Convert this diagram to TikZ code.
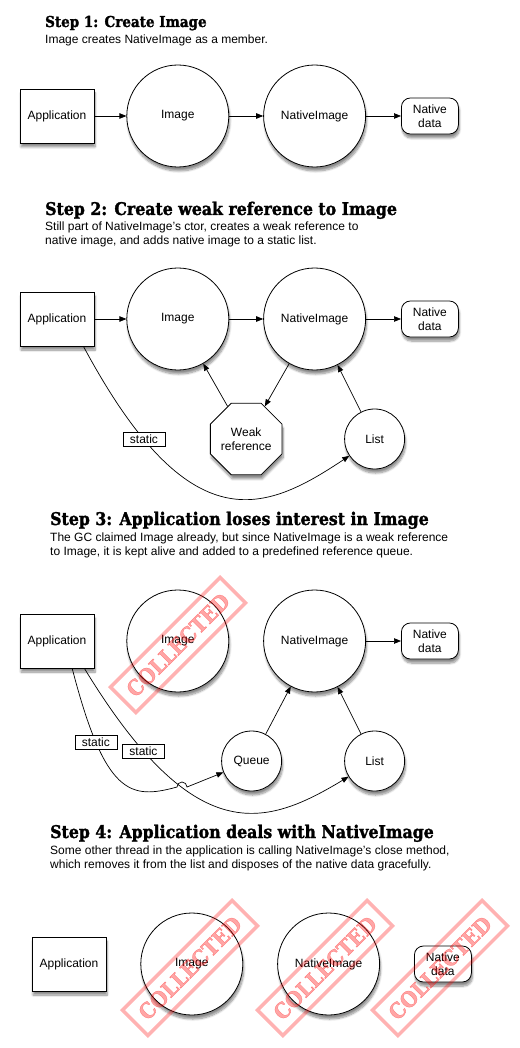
\documentclass[tikz,border=0pt]{standalone}
\usepackage{fontspec}
\setmainfont{Liberation Sans}
\newfontfamily\slabfont[FakeStretch=0.9, BoldFeatures={FakeBold=1.6}]{DejaVu Serif}
\usetikzlibrary{shapes,arrows.meta,positioning,calc,shadows.blur}

\begin{document}
\begin{tikzpicture}[x=1pt, y=-1pt,
    >={Triangle[length=7pt,width=5.5pt]},
    every node/.style={font=\fontsize{12}{14}\selectfont},
    shade/.style={blur shadow={shadow xshift=1pt, shadow yshift=-4pt, shadow blur steps=8, shadow opacity=45}},
    app/.style={rectangle, draw, fill=white, line width=0.8pt, minimum width=74pt, minimum height=54pt, shade},
    obj/.style={circle, draw, fill=white, line width=0.8pt, minimum size=102pt, inner sep=0pt, shade},
    blob/.style={rectangle, rounded corners=9pt, draw, fill=white, line width=0.8pt, minimum width=57pt, minimum height=36pt, inner sep=1pt, align=center, shade},
    minor/.style={circle, draw, fill=white, line width=0.8pt, minimum size=60pt, inner sep=0pt, shade},
    weak/.style={regular polygon, regular polygon sides=8, draw, fill=white, line width=0.8pt, minimum size=65pt, inner sep=0pt, align=center, shade},
    tag/.style={rectangle, draw, fill=white, line width=0.6pt, minimum width=42pt, minimum height=14pt, inner sep=1pt},
    steptitle/.style={anchor=base west, inner sep=0pt, font=\slabfont\bfseries\fontsize{17.5}{19}\selectfont},
    stepnote/.style={anchor=north west, inner sep=0pt, align=left, font=\fontsize{12}{14}\selectfont},
    stamp/.style={rectangle, draw=red, draw opacity=0.3, text=red, text opacity=0.35, line width=3.5pt, minimum width=155pt, minimum height=36pt, rotate=45, font=\slabfont\bfseries\fontsize{21.5}{21.5}\selectfont},
    conn/.style={->, line width=0.7pt}
]
    \useasboundingbox (0,0) rectangle (519,1048);

    % step 1
    \node[steptitle, font=\slabfont\bfseries\fontsize{15}{17}\selectfont] (t1) at (45,27) {Step 1: Create Image};
    \node[stepnote] (n1) at (45,35) {Image creates NativeImage as a member.};
    \node[app] (app1) at (57,116) {Application};
    \node[obj, right=32pt of app1] (img1) {Image};
    \node[obj, right=34pt of img1] (nimg1) {NativeImage};
    \node[blob, right=35pt of nimg1] (data1) {Native\\data};
    \draw[conn] (app1) -- (img1);
    \draw[conn] (img1) -- (nimg1);
    \draw[conn] (nimg1) -- (data1);

    % step 2
    \node[steptitle] (t2) at (45,215) {Step 2: Create weak reference to Image};
    \node[stepnote] (n2) at (45,222) {Still part of NativeImage's ctor, creates a weak reference to\\native image, and adds native image to a static list.};
    \node[app] (app2) at (57,319) {Application};
    \node[obj, right=32pt of app2] (img2) {Image};
    \node[obj, right=34pt of img2] (nimg2) {NativeImage};
    \node[blob, right=35pt of nimg2] (data2) {Native\\data};
    \node[weak] (weak2) at ($(img2)!0.5!(nimg2)+(0,120)$) {Weak\\reference};
    \node[minor] (list2) at ($(nimg2)+(60,120)$) {List};
    \draw[conn] (app2) -- (img2);
    \draw[conn] (img2) -- (nimg2);
    \draw[conn] (nimg2) -- (data2);
    \draw[conn] (weak2) -- (img2);
    \draw[conn] (nimg2) -- (weak2);
    \draw[conn] (list2) -- (nimg2);
    \draw[conn] (app2.-46) .. controls (190,545) and (265,512) .. node[tag, pos=0.2] (s2) {static} (list2);

    % step 3
    \node[steptitle] (t3) at (50,525) {Step 3: Application loses interest in Image};
    \node[stepnote] (n3) at (50,533) {The GC claimed Image already, but since NativeImage is a weak reference\\to Image, it is kept alive and added to a predefined reference queue.};
    \node[app] (app3) at (57,641) {Application};
    \node[obj, right=32pt of app3] (img3) {Image};
    \node[obj, right=34pt of img3] (nimg3) {NativeImage};
    \node[blob, right=35pt of nimg3] (data3) {Native\\data};
    \node[minor] (queue3) at ($(nimg3)+(-63,120)$) {Queue};
    \node[minor] (list3) at ($(nimg3)+(60,120)$) {List};
    \coordinate (hop) at (177,787);
    \draw[conn] (nimg3) -- (data3);
    \draw[conn] (queue3) -- (nimg3);
    \draw[conn] (list3) -- (nimg3);
    \draw[conn] (app3.-45) .. controls (195,850) and (265,827) .. node[tag, pos=0.19] (s3b) {static} (list3);
    \draw[conn] (app3.-61) .. controls (105,795) and (130,800) .. node[tag, pos=0.25] (s3a) {static} (hop) arc[start angle=180, end angle=0, radius=5pt] -- (queue3);
    \node[stamp] (c3) at (178,645) {COLLECTED};

    % step 4
    \node[steptitle] (t4) at (50,838) {Step 4: Application deals with NativeImage};
    \node[stepnote] (n4) at (50,846) {Some other thread in the application is calling NativeImage's close method,\\which removes it from the list and disposes of the native data gracefully.};
    \node[app] (app4) at (69,964) {Application};
    \node[obj, right=34pt of app4] (img4) {Image};
    \node[obj, right=34pt of img4] (nimg4) {NativeImage};
    \node[blob, right=34pt of nimg4] (data4) {Native\\data};
    \node[stamp] (c4a) at (190,968) {COLLECTED};
    \node[stamp] (c4b) at (325,968) {COLLECTED};
    \node[stamp] (c4c) at (440,968) {COLLECTED};
\end{tikzpicture}
\end{document}
